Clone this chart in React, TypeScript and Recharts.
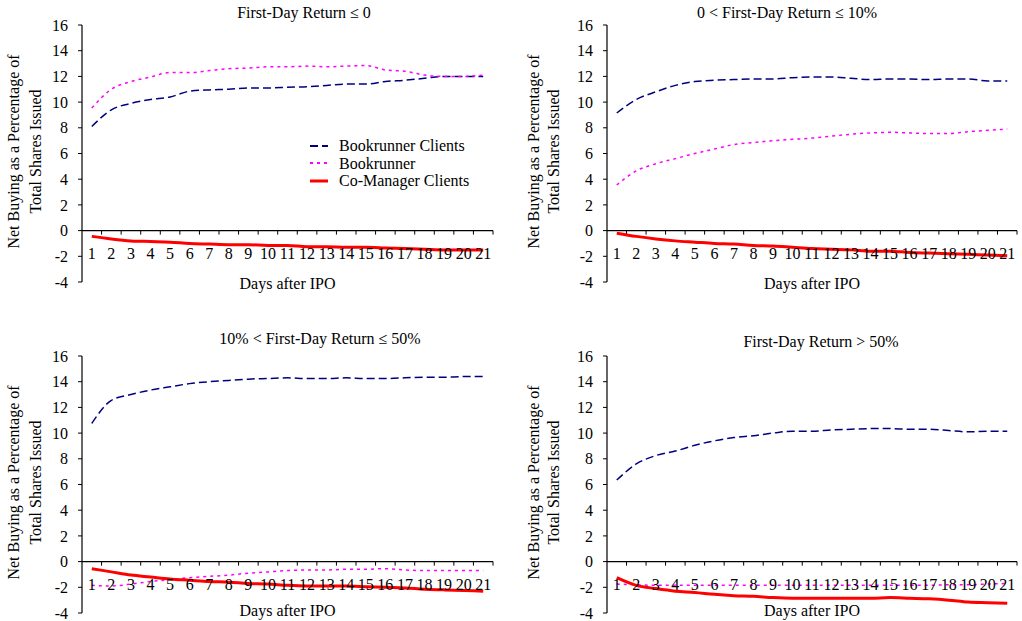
import React from 'react';
import { LineChart, Line, XAxis, YAxis, ReferenceLine, Legend, Label } from 'recharts';

const days = ['1', '2', '3', '4', '5', '6', '7', '8', '9', '10', '11', '12', '13', '14', '15', '16', '17', '18', '19', '20', '21'];
const yTicks = [-4, -2, 0, 2, 4, 6, 8, 10, 12, 14, 16];

// First-day return <= 0
const clientsLe0 = [8.1, 9.4, 9.9, 10.2, 10.4, 10.85, 10.95, 11.0, 11.1, 11.1, 11.15, 11.2, 11.3, 11.4, 11.4, 11.6, 11.7, 11.85, 12.0, 12.0, 12.0];
const bookLe0 = [9.55, 11.0, 11.6, 11.95, 12.3, 12.3, 12.45, 12.6, 12.65, 12.75, 12.75, 12.8, 12.75, 12.8, 12.85, 12.5, 12.4, 12.1, 12.0, 12.0, 12.1];
const coLe0 = [-0.45, -0.65, -0.8, -0.85, -0.9, -1.0, -1.05, -1.1, -1.1, -1.15, -1.15, -1.25, -1.25, -1.3, -1.3, -1.35, -1.4, -1.45, -1.5, -1.5, -1.5];

// 0 < first-day return <= 10%
const clients0to10 = [9.15, 10.2, 10.8, 11.3, 11.6, 11.7, 11.75, 11.8, 11.8, 11.9, 11.95, 11.95, 11.85, 11.75, 11.8, 11.8, 11.75, 11.8, 11.8, 11.65, 11.65];
const book0to10 = [3.55, 4.65, 5.2, 5.6, 6.0, 6.35, 6.7, 6.85, 7.0, 7.1, 7.2, 7.35, 7.5, 7.6, 7.65, 7.6, 7.55, 7.55, 7.7, 7.8, 7.9];
const co0to10 = [-0.2, -0.45, -0.65, -0.8, -0.9, -1.0, -1.05, -1.15, -1.2, -1.3, -1.4, -1.45, -1.5, -1.6, -1.6, -1.7, -1.75, -1.8, -1.85, -1.9, -1.95];

// 10% < first-day return <= 50%
const clients10to50 = [10.75, 12.55, 13.0, 13.35, 13.6, 13.85, 14.0, 14.1, 14.2, 14.25, 14.3, 14.25, 14.25, 14.3, 14.25, 14.25, 14.3, 14.35, 14.35, 14.4, 14.4];
const book10to50 = [-1.85, -1.9, -1.75, -1.55, -1.4, -1.25, -1.15, -1.05, -0.9, -0.8, -0.7, -0.65, -0.65, -0.6, -0.6, -0.55, -0.65, -0.7, -0.7, -0.7, -0.7];
const co10to50 = [-0.55, -0.8, -1.05, -1.2, -1.35, -1.45, -1.55, -1.6, -1.7, -1.75, -1.85, -1.9, -1.9, -1.9, -1.95, -2.0, -2.05, -2.15, -2.2, -2.25, -2.3];

// First-day return > 50%
const clientsGt50 = [6.35, 7.6, 8.25, 8.6, 9.05, 9.4, 9.65, 9.8, 10.0, 10.15, 10.15, 10.25, 10.3, 10.35, 10.35, 10.3, 10.3, 10.2, 10.1, 10.15, 10.15];
const bookGt50 = [-1.75, -1.8, -1.85, -1.85, -1.85, -1.85, -1.85, -1.85, -1.85, -1.85, -1.85, -1.85, -1.85, -1.85, -1.85, -1.85, -1.85, -1.8, -1.8, -1.75, -1.7];
const coGt50 = [-1.25, -1.85, -2.1, -2.3, -2.4, -2.55, -2.65, -2.7, -2.8, -2.85, -2.85, -2.85, -2.85, -2.85, -2.8, -2.85, -2.9, -3.0, -3.15, -3.2, -3.25];

const FONT = "'Liberation Serif', 'DejaVu Serif', serif";
const FS = 16;

const series = [
  { key: 'clients', name: 'Bookrunner Clients', color: '#000080', width: 1.5, dash: '8 4' },
  { key: 'book', name: 'Bookrunner', color: '#ff00ff', width: 1.5, dash: '3 4' },
  { key: 'co', name: 'Co-Manager Clients', color: '#ff0000', width: 3, dash: undefined as string | undefined },
];

const buildRows = (clients: number[], book: number[], co: number[]) =>
  days.map((d, i) => ({ day: d, clients: clients[i], book: book[i], co: co[i] }));

const panels = [
  { title: 'First-Day Return ≤ 0', rows: buildRows(clientsLe0, bookLe0, coLe0), left: 0, top: 0, height: 310, mTop: 25, axisW: 82, right: 18, titleX: 304, titleY: 13, lab: [69, 47], xLabShift: 1, legend: true },
  { title: '0 < First-Day Return ≤ 10%', rows: buildRows(clients0to10, book0to10, co0to10), left: 511, top: 0, height: 310, mTop: 25, axisW: 96, right: 5, titleX: 787, titleY: 13, lab: [74, 54], xLabShift: 1, legend: false },
  { title: '10% < First-Day Return ≤ 50%', rows: buildRows(clients10to50, book10to50, co10to50), left: 0, top: 320, height: 301, mTop: 36, axisW: 82, right: 18, titleX: 320, titleY: 339, lab: [69, 47], xLabShift: -3, legend: false },
  { title: 'First-Day Return > 50%', rows: buildRows(clientsGt50, bookGt50, coGt50), left: 511, top: 320, height: 301, mTop: 36, axisW: 96, right: 5, titleX: 821, titleY: 342, lab: [74, 54], xLabShift: -3, legend: false },
];

// zero line acting as the category axis, with ticks between days
const zeroAxis = (p: any) => {
  const n = days.length;
  const step = (p.x2 - p.x1) / n;
  return (
    <g>
      <line x1={p.x1} y1={p.y1} x2={p.x2} y2={p.y2} stroke="#000" strokeWidth={1.2} />
      {days.map((d, i) => (
        <line key={d} x1={p.x1 + step * (i + 1)} y1={p.y1} x2={p.x1 + step * (i + 1)} y2={p.y1 + 4} stroke="#000" strokeWidth={1} />
      ))}
    </g>
  );
};

const yLabel = (offs: number[]) => (props: any) => {
  const vb = props.viewBox;
  const right = vb.x + vb.width;
  const cy = vb.y + vb.height / 2 - 2;
  const x1 = right - offs[0];
  const x2 = right - offs[1];
  return (
    <g fill="#000" fontSize={FS} fontFamily={FONT}>
      <text x={x1} y={cy} textAnchor="middle" dominantBaseline="central" transform={`rotate(-90, ${x1}, ${cy})`}>
        Net Buying as a Percentage of
      </text>
      <text x={x2} y={cy} textAnchor="middle" dominantBaseline="central" transform={`rotate(-90, ${x2}, ${cy})`}>
        Total Shares Issued
      </text>
    </g>
  );
};

const LegendBox = (props: any) => {
  const items = [...(props.payload || [])].sort(
    (a: any, b: any) => series.findIndex((s) => s.key === a.dataKey) - series.findIndex((s) => s.key === b.dataKey),
  );
  return (
    <div style={{ fontFamily: FONT, fontSize: FS, lineHeight: '17.5px', color: '#000' }}>
      {items.map((p: any) => {
        const s = series.find((x) => x.key === p.dataKey) || series[0];
        return (
          <div key={s.key} style={{ display: 'flex', alignItems: 'center', whiteSpace: 'nowrap' }}>
            <svg width={29} height={10} style={{ display: 'block' }}>
              <line x1={0} y1={5} x2={18} y2={5} stroke={s.color} strokeWidth={s.key === 'co' ? 3 : 2} strokeDasharray={s.dash} />
            </svg>
            <span>{s.name}</span>
          </div>
        );
      })}
    </div>
  );
};

const Panel = ({ cfg }: { cfg: (typeof panels)[number] }) => {
  const plotH = 257;
  const xAxisH = cfg.height - cfg.mTop - plotH;
  const tickFont = { fill: '#000', fontSize: FS, fontFamily: FONT };
  return (
    <>
      <div
        style={{
          position: 'absolute', left: cfg.titleX - 160, top: cfg.titleY - 9, width: 320,
          textAlign: 'center', fontSize: FS, lineHeight: '18px', color: '#000', fontFamily: FONT,
        }}
      >
        {cfg.title}
      </div>
      <div style={{ position: 'absolute', left: cfg.left, top: cfg.top }}>
        <LineChart
          width={511}
          height={cfg.height}
          data={cfg.rows}
          margin={{ top: cfg.mTop, right: cfg.right, left: 0, bottom: 0 }}
        >
          <XAxis
            dataKey="day"
            scale="band"
            height={xAxisH}
            interval={0}
            axisLine={false}
            tickLine={false}
            tickSize={0}
            tickMargin={0}
            tick={{ ...tickFont, dy: -34 }}
          >
            <Label value="Days after IPO" position="center" dy={-xAxisH / 2 + cfg.xLabShift} {...tickFont} />
          </XAxis>
          <YAxis
            width={cfg.axisW}
            domain={[-4, 16]}
            ticks={yTicks}
            interval={0}
            allowDataOverflow
            tickSize={4}
            tickMargin={10}
            axisLine={{ stroke: '#000', strokeWidth: 1.2 }}
            tickLine={{ stroke: '#000' }}
            tick={tickFont}
          >
            <Label content={yLabel(cfg.lab)} />
          </YAxis>
          <ReferenceLine y={0} shape={zeroAxis} ifOverflow="visible" />
          {series.map((s) => (
            <Line
              key={s.key}
              dataKey={s.key}
              name={s.name}
              type="monotone"
              stroke={s.color}
              strokeWidth={s.width}
              strokeDasharray={s.dash}
              dot={false}
              activeDot={false}
              isAnimationActive={false}
            />
          ))}
          {cfg.legend && (
            <Legend
              layout="vertical"
              align="center"
              verticalAlign="middle"
              content={LegendBox}
              wrapperStyle={{ left: 310, top: 137, width: 190 }}
            />
          )}
        </LineChart>
      </div>
    </>
  );
};

export default function App() {
  return (
    <div style={{ position: 'absolute', left: 0, top: 0, width: 1022, height: 621, background: '#fff', fontFamily: FONT }}>
      {panels.map((p) => (
        <Panel key={p.title} cfg={p} />
      ))}
    </div>
  );
}
